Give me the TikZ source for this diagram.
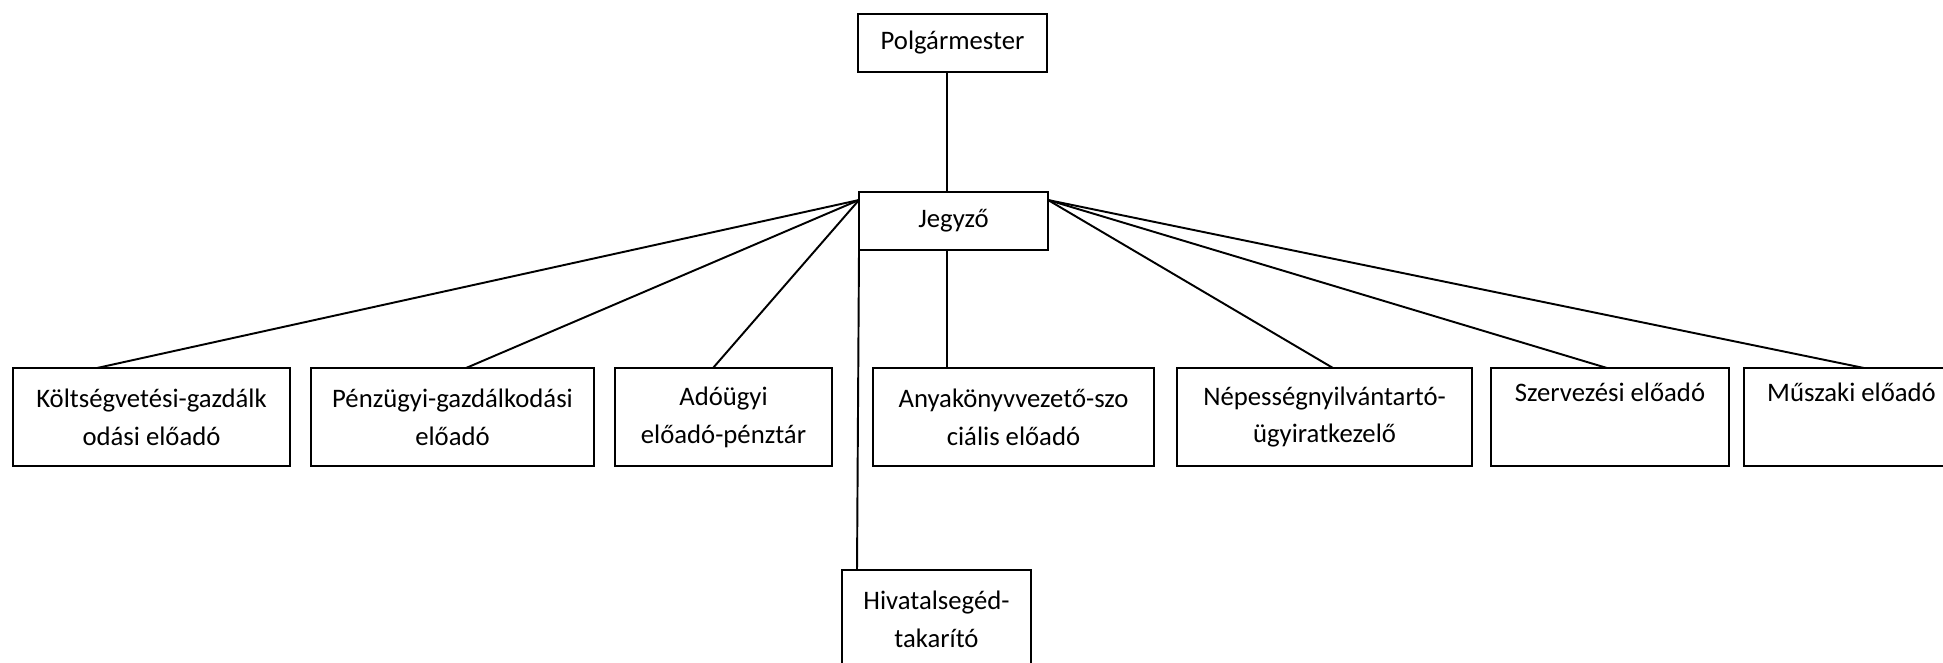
\documentclass[tikz,border=0pt]{standalone}
\usepackage{fontspec}
\setmainfont{Carlito}
\usepackage{tikz}
\usetikzlibrary{positioning}

\begin{document}
\begin{tikzpicture}[
  font=\fontsize{15.2}{21.6}\selectfont,
  unit/.style={draw,line width=1.1pt,align=center,inner sep=2pt,
    outer sep=0pt,minimum height=1.96cm},
  head/.style={unit,minimum width=3.78cm,minimum height=1.16cm},
  link/.style={draw,line width=1.1pt}
]
  \useasboundingbox (0,0) rectangle (38.86,-13.24);
  \clip (0,0) rectangle (38.86,-13.24);

  \node[head] (polg) at (19.05,-0.86) {Polgármester};
  \node[head,below=2.4cm of polg,xshift=0.02cm] (jegy) {Jegyző};

  \node[unit,minimum width=5.54cm,below=2.36cm of jegy,xshift=-16.04cm] (kolt)
    {Költségvetési-gazdálk\\odási előadó};
  \node[unit,minimum width=5.66cm,right=0.42cm of kolt] (penz)
    {Pénzügyi-gazdálkodási\\előadó};
  \node[unit,minimum width=4.34cm,right=0.42cm of penz] (ado)
    {Adóügyi\\előadó-pénztár};
  \node[unit,minimum width=5.62cm,right=0.82cm of ado] (anya)
    {Anyakönyvvezető-szo\\ciális előadó};
  \node[unit,minimum width=5.9cm,right=0.46cm of anya] (nep)
    {Népességnyilvántartó-\\ügyiratkezelő};
  \node[unit,minimum width=4.76cm,right=0.38cm of nep] (szerv)
    {Szervezési előadó\\\strut};
  \node[unit,minimum width=4.3cm,right=0.3cm of szerv] (musz)
    {Műszaki előadó\\\strut};
  \node[unit,minimum width=3.78cm,below=6.4cm of jegy,xshift=-0.34cm] (hiv)
    {Hivatalsegéd-\\takarító};

  \draw[link] ([xshift=-0.11cm]polg.south) -- ([xshift=-0.13cm]jegy.north);
  \draw[link] ([xshift=-0.13cm]jegy.south) -- ([xshift=-0.13cm]jegy.south |- anya.north);
  \draw[link] (jegy.south west) -- ([xshift=0.3cm]hiv.north west);

  \draw[link] ([yshift=-0.16cm]jegy.north west) -- ([xshift=-1.09cm]kolt.north);
  \draw[link] ([yshift=-0.16cm]jegy.north west) -- ([xshift=0.27cm]penz.north);
  \draw[link] ([yshift=-0.16cm]jegy.north west) -- ([xshift=-0.21cm]ado.north);
  \draw[link] ([yshift=-0.16cm]jegy.north east) -- ([xshift=0.17cm]nep.north);
  \draw[link] ([yshift=-0.16cm]jegy.north east) -- ([xshift=-0.06cm]szerv.north);
  \draw[link] ([yshift=-0.16cm]jegy.north east) -- ([xshift=0.25cm]musz.north);
\end{tikzpicture}
\end{document}
